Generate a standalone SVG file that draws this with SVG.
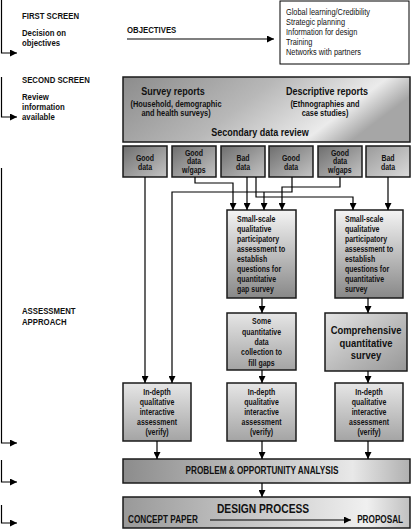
<svg xmlns="http://www.w3.org/2000/svg" width="412" height="530" viewBox="0 0 412 530">
<defs>
<style>
text{font-family:'Liberation Sans',Arial,sans-serif;fill:#111;transform-box:fill-box;transform-origin:0 0;transform:scaleX(0.82);}
.b{font-weight:bold;}
.c{text-anchor:middle;transform-origin:50% 50%;}
.e{text-anchor:end;transform-origin:100% 0;}
.w{transform:scaleX(0.9);}
.lbl{font-size:9.5px;font-weight:bold;}
.box{stroke:#1a1a1a;stroke-width:1.5;}
.sm{font-size:8.5px;font-weight:bold;}
.arr{fill:none;stroke:#000;stroke-width:1.2;marker-end:url(#ah);}
</style>
<marker id="ah" markerWidth="7" markerHeight="7" refX="7" refY="3.5" orient="auto" markerUnits="userSpaceOnUse"><path d="M0,0 L7,3.5 L0,7 Z" fill="#000"/></marker>
<linearGradient id="gBig" x1="0" y1="0" x2="1" y2="0.3"><stop offset="0" stop-color="#8c8c8c"/><stop offset="0.5" stop-color="#b8b8b8"/><stop offset="0.85" stop-color="#ebebeb"/><stop offset="1" stop-color="#a6a6a6"/></linearGradient>
<linearGradient id="gData" x1="0" y1="0" x2="1" y2="1"><stop offset="0" stop-color="#6e6e6e"/><stop offset="1" stop-color="#c4c4c4"/></linearGradient>
<linearGradient id="gData2" x1="0" y1="0" x2="1" y2="1"><stop offset="0" stop-color="#9a9a9a"/><stop offset="1" stop-color="#dadada"/></linearGradient>
<linearGradient id="gV" x1="0" y1="0" x2="0" y2="1"><stop offset="0" stop-color="#f4f4f4"/><stop offset="1" stop-color="#888"/></linearGradient>
<linearGradient id="gSoft" x1="0" y1="0" x2="0" y2="1"><stop offset="0" stop-color="#e6e6e6"/><stop offset="1" stop-color="#a4a4a4"/></linearGradient>
<linearGradient id="gComp" x1="0" y1="0" x2="1" y2="1"><stop offset="0" stop-color="#e4e4e4"/><stop offset="1" stop-color="#979797"/></linearGradient>
<linearGradient id="gH" x1="0" y1="0" x2="1" y2="0"><stop offset="0" stop-color="#8c8c8c"/><stop offset="0.8" stop-color="#e8e8e8"/><stop offset="1" stop-color="#b0b0b0"/></linearGradient>
<linearGradient id="gD" x1="0" y1="0" x2="1" y2="0"><stop offset="0" stop-color="#999"/><stop offset="0.85" stop-color="#f0f0f0"/><stop offset="1" stop-color="#c0c0c0"/></linearGradient>
</defs>
<rect width="412" height="530" fill="#fff"/>

<g id="stage-labels">
<text class="lbl" x="22" y="19">FIRST SCREEN</text>
<text class="lbl" x="22" y="36">Decision on</text>
<text class="lbl" x="22" y="46">objectives</text>
<text class="lbl" x="22" y="83.5">SECOND SCREEN</text>
<text class="lbl" x="22" y="100.5">Review</text>
<text class="lbl" x="22" y="110.5">information</text>
<text class="lbl" x="22" y="120.5">available</text>
<text class="lbl" x="22" y="314.5">ASSESSMENT</text>
<text class="lbl" x="22" y="325">APPROACH</text>
</g>

<g id="objectives-label">
<text class="lbl" x="127" y="33.5">OBJECTIVES</text>
</g>

<g id="objectives-box">
<rect x="280" y="1" width="129" height="63" fill="#fff" stroke="#000" stroke-width="1"/>
<text x="286" y="15" font-size="9">Global learning/Credibility</text>
<text x="286" y="25" font-size="9">Strategic planning</text>
<text x="286" y="35" font-size="9">Information for design</text>
<text x="286" y="45" font-size="9">Training</text>
<text x="286" y="55" font-size="9">Networks with partners</text>
</g>

<g id="secondary-review">
<rect class="box" x="123" y="77" width="287" height="65" fill="url(#gBig)"/>
<text class="b c" x="173" y="95" font-size="11">Survey reports</text>
<text class="b c" x="176" y="107" font-size="9">(Household, demographic</text>
<text class="b c" x="176" y="116.5" font-size="9">and health surveys)</text>
<text class="b c" x="327" y="95" font-size="11">Descriptive reports</text>
<text class="b c" x="325" y="107" font-size="9">(Ethnographies and</text>
<text class="b c" x="325" y="116.5" font-size="9">case studies)</text>
<text class="b c" x="260" y="136" font-size="11">Secondary data review</text>
</g>

<g id="data1"><rect class="box" x="123" y="146" width="44" height="31" fill="url(#gData)"/>
<text class="sm c" x="145" y="161">Good</text><text class="sm c" x="145" y="170">data</text></g>
<g id="data2"><rect class="box" x="172" y="146" width="44" height="31" fill="url(#gData)"/>
<text class="sm c" x="194" y="156">Good</text><text class="sm c" x="194" y="164.5">data</text><text class="sm c" x="194" y="173">w/gaps</text></g>
<g id="data3"><rect class="box" x="221" y="146" width="44" height="31" fill="url(#gData)"/>
<text class="sm c" x="243" y="161">Bad</text><text class="sm c" x="243" y="170">data</text></g>
<g id="data4"><rect class="box" x="269" y="146" width="44" height="31" fill="url(#gData)"/>
<text class="sm c" x="291" y="161">Good</text><text class="sm c" x="291" y="170">data</text></g>
<g id="data5"><rect class="box" x="318" y="146" width="44" height="31" fill="url(#gData)"/>
<text class="sm c" x="340" y="156">Good</text><text class="sm c" x="340" y="164.5">data</text><text class="sm c" x="340" y="173">w/gaps</text></g>
<g id="data6"><rect class="box" x="366" y="146" width="44" height="31" fill="url(#gData2)"/>
<text class="sm c" x="388" y="161">Bad</text><text class="sm c" x="388" y="170">data</text></g>

<g id="smallscale-gap">
<rect class="box" x="227" y="210" width="69" height="88" fill="url(#gV)"/>
<text class="sm" x="237" y="222">Small-scale</text>
<text class="sm" x="237" y="232">qualitative</text>
<text class="sm" x="237" y="242">participatory</text>
<text class="sm" x="237" y="252">assessment to</text>
<text class="sm" x="237" y="262">establish</text>
<text class="sm" x="237" y="272">questions for</text>
<text class="sm" x="237" y="282">quantitative</text>
<text class="sm" x="237" y="292">gap survey</text>
</g>
<g id="smallscale-survey">
<rect class="box" x="335" y="210" width="68" height="88" fill="url(#gV)"/>
<text class="sm" x="345" y="222">Small-scale</text>
<text class="sm" x="345" y="232">qualitative</text>
<text class="sm" x="345" y="242">participatory</text>
<text class="sm" x="345" y="252">assessment to</text>
<text class="sm" x="345" y="262">establish</text>
<text class="sm" x="345" y="272">questions for</text>
<text class="sm" x="345" y="282">quantitative</text>
<text class="sm" x="345" y="292">survey</text>
</g>

<g id="some-quant">
<rect class="box" x="227" y="313" width="69" height="57" fill="url(#gSoft)"/>
<text class="sm c" x="261.5" y="324.5">Some</text>
<text class="sm c" x="261.5" y="334.8">quantitative</text>
<text class="sm c" x="261.5" y="345.1">data</text>
<text class="sm c" x="261.5" y="355.4">collection to</text>
<text class="sm c" x="261.5" y="365.7">fill gaps</text>
</g>
<g id="comprehensive">
<rect class="box" x="325" y="313" width="82" height="58" fill="url(#gComp)"/>
<text class="b c w" x="366" y="334.5" font-size="10.5">Comprehensive</text>
<text class="b c w" x="366" y="346.7" font-size="10.5">quantitative</text>
<text class="b c w" x="366" y="358.9" font-size="10.5">survey</text>
</g>

<g id="indepth1">
<rect class="box" x="123" y="383" width="68" height="58" fill="url(#gSoft)"/>
<text class="sm c" x="157" y="395">In-depth</text>
<text class="sm c" x="157" y="405">qualitative</text>
<text class="sm c" x="157" y="415">interactive</text>
<text class="sm c" x="157" y="425">assessment</text>
<text class="sm c" x="157" y="435">(verify)</text>
</g>
<g id="indepth2">
<rect class="box" x="227" y="383" width="69" height="58" fill="url(#gSoft)"/>
<text class="sm c" x="261.5" y="395">In-depth</text>
<text class="sm c" x="261.5" y="405">qualitative</text>
<text class="sm c" x="261.5" y="415">interactive</text>
<text class="sm c" x="261.5" y="425">assessment</text>
<text class="sm c" x="261.5" y="435">(verify)</text>
</g>
<g id="indepth3">
<rect class="box" x="335" y="383" width="68" height="58" fill="url(#gSoft)"/>
<text class="sm c" x="369" y="395">In-depth</text>
<text class="sm c" x="369" y="405">qualitative</text>
<text class="sm c" x="369" y="415">interactive</text>
<text class="sm c" x="369" y="425">assessment</text>
<text class="sm c" x="369" y="435">(verify)</text>
</g>

<g id="problem">
<rect class="box" x="123" y="459" width="287" height="24" fill="url(#gH)"/>
<text class="b c" x="262" y="474.5" font-size="10">PROBLEM &amp; OPPORTUNITY ANALYSIS</text>
</g>

<g id="design">
<rect class="box" x="123" y="497" width="287" height="31" fill="url(#gD)"/>
<text class="b c" x="263" y="513.5" font-size="12.5">DESIGN PROCESS</text>
<text class="b" x="128" y="523.5" font-size="10">CONCEPT PAPER</text>
<text class="b e" x="403" y="523.5" font-size="10">PROPOSAL</text>
</g>

<g id="connectors">
<path class="arr" d="M1.5,0 V53 H17"/>
<path class="arr" d="M1.5,77 V117 H17"/>
<path class="arr" d="M1.5,168 V443 H17"/>
<path class="arr" d="M1.5,460 V482 H17"/>
<path class="arr" d="M1.5,505 V523 H17"/>
<path class="arr" d="M127,39 H274"/>
<path class="arr" d="M145,177 V383"/>
<path class="arr" d="M195,177 V183 H233 V210"/>
<path class="arr" d="M247,177 V210"/>
<path class="arr" d="M256,177 V197 H353 V210"/>
<path class="arr" d="M292,177 V192 H172 V383"/>
<path class="arr" d="M264,192 V210"/>
<path class="arr" d="M340,177 V187 H282 V210"/>
<path class="arr" d="M388,177 V210"/>
<path class="arr" d="M262,298 V313"/>
<path class="arr" d="M368,298 V313"/>
<path class="arr" d="M262,370 V383"/>
<path class="arr" d="M368,371 V383"/>
<path class="arr" d="M157,441 V459"/>
<path class="arr" d="M262,441 V459"/>
<path class="arr" d="M368,441 V459"/>
<path class="arr" d="M262,483 V497"/>
<path class="arr" d="M210,520 H351"/>
</g>
</svg>
